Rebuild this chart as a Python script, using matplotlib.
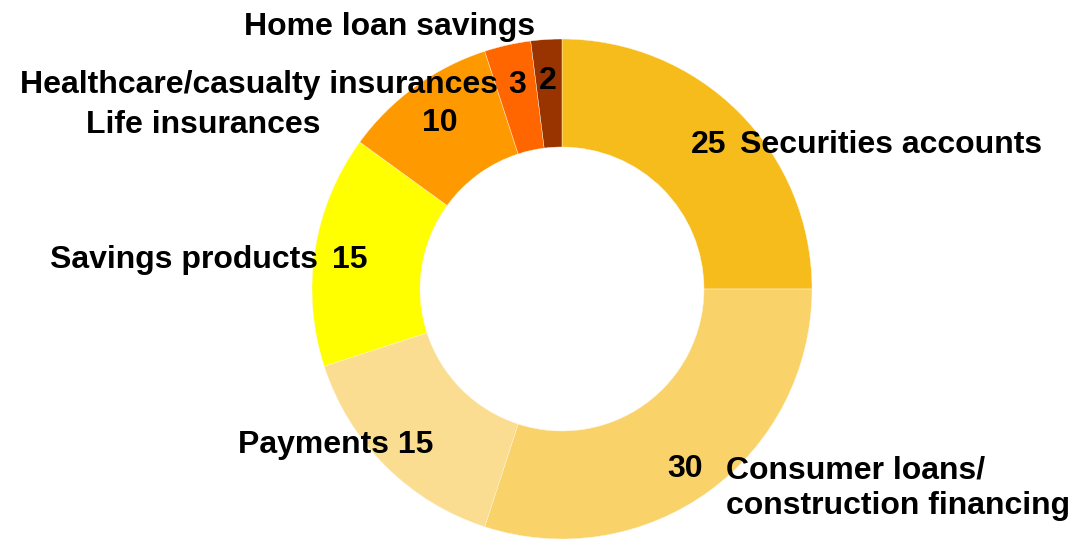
import matplotlib
matplotlib.use("Agg")
import matplotlib.pyplot as plt

# portfolio shares in percent, clockwise from 12 o'clock
categories = ["Securities accounts", "Consumer loans/\nconstruction financing", "Payments",
              "Savings products", "Life insurances", "Healthcare/casualty insurances",
              "Home loan savings"]
values = [25, 30, 15, 15, 10, 3, 2]
colors = ["#F6BC1C", "#F9D36A", "#FADD90", "#FFFF00", "#FF9900", "#FF6600", "#993300"]

W, H = 1086, 541
fig = plt.figure(figsize=(W / 100, H / 100), dpi=100)
ax = fig.add_axes([0, 0, 1, 1])

ax.pie(values, colors=colors, startangle=90, counterclock=False,
       radius=250, center=(562, H - 289),
       wedgeprops=dict(width=108, edgecolor="#FFF6E0", linewidth=0.3))
ax.set_xlim(0, W)
ax.set_ylim(0, H)
ax.set_aspect("equal")
ax.axis("off")

font = dict(family=["Liberation Sans", "DejaVu Sans"], fontsize=23,
            fontweight="bold", color="black", va="baseline")

def put(x, y, s, ha="left", **kw):
    ax.text(x, H - y, s, ha=ha, **font, **kw)

# category names
put(244, 35, categories[6])
put(20, 93, categories[5])
put(86, 133, categories[4])
put(740, 153, categories[0])
put(318, 268, categories[3], ha="right")
put(238, 453, categories[2] + " " + str(values[2]))
put(726, 514, categories[1], linespacing=1.26)

# values
put(517, 93, str(values[5]), ha="center")
put(548, 89, str(values[6]), ha="center")
put(440, 131, str(values[4]), ha="center")
put(709, 153, str(values[0]), ha="center")
put(350, 268, str(values[3]), ha="center")
put(685, 477, str(values[1]), ha="center")

fig.savefig("out.png", dpi=100)
